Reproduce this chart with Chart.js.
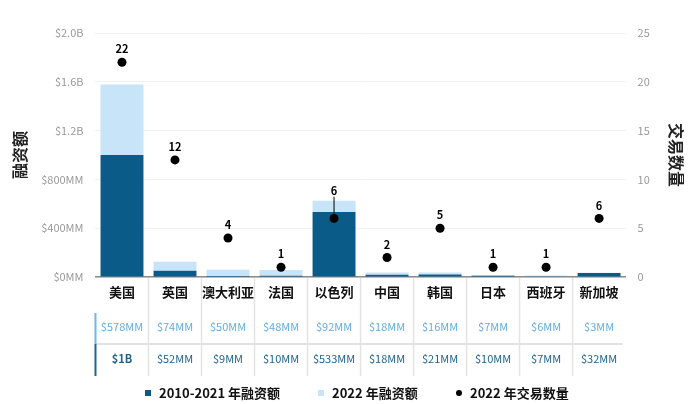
<!DOCTYPE html>
<html lang="zh">
<head>
  <meta charset="UTF-8">
  <title>各国融资额</title>
  <script src="https://cdn.jsdelivr.net/npm/chart.js"></script>
  <style>
    html, body { margin: 0; padding: 0; background: #fff; }
    body { font-family: "Noto Sans CJK SC", "Noto Sans", sans-serif; }
    #wrap { position: relative; width: 700px; height: 404px; }
    #legend {
      position: absolute; left: 0; top: 384px; width: 700px; height: 18px;
      font-size: 13px; font-weight: bold; color: #111; line-height: 18px;
    }
    .item { position: absolute; top: 0; display: flex; align-items: center; white-space: nowrap; }
    .mark { width: 6px; height: 6px; margin-right: 8px; }
    .dot { width: 6px; height: 6px; border-radius: 50%; background: #000; }
  </style>
</head>
<body>
<div id="wrap">
  <canvas id="chart" width="700" height="404"></canvas>
  <div id="legend">
    <div class="item" style="left:145px"><span class="mark" style="background:#0b5b89"></span>2010-2021 年融资额</div>
    <div class="item" style="left:318px"><span class="mark" style="background:#c8e4f8"></span>2022 年融资额</div>
    <div class="item" style="left:456px"><span class="mark dot"></span>2022 年交易数量</div>
  </div>
</div>
<script>
  const categories = ['美国', '英国', '澳大利亚', '法国', '以色列', '中国', '韩国', '日本', '西班牙', '新加坡'];
  // 融资额, 单位 百万美元
  const funding2010_2021 = [1000, 52, 9, 10, 533, 18, 21, 10, 7, 32];
  const funding2022 = [578, 74, 50, 48, 92, 18, 16, 7, 6, 3];
  const deals2022 = [22, 12, 4, 1, 6, 2, 5, 1, 1, 6];

  const DARK = '#0b5b89';
  const LIGHT = '#c8e4f8';
  const FONT = '"Noto Sans CJK SC", "Noto Sans", sans-serif';

  function money(v) {
    if (v >= 1000) return '$' + (v / 1000) + 'B';
    return '$' + v + 'MM';
  }

  const tablePlugin = {
    id: 'table',
    afterDraw(chart) {
      const ctx = chart.ctx;
      const x = chart.scales.x;
      const area = chart.chartArea;
      const bottom = x.bottom;
      const row1 = area.bottom + 50;
      const row2 = area.bottom + 82;
      const mid = area.bottom + 67;
      ctx.save();
      // column separators
      ctx.strokeStyle = '#e4e4e4';
      ctx.lineWidth = 1.5;
      for (let i = 1; i < categories.length; i++) {
        const sx = (x.getPixelForValue(i - 1) + x.getPixelForValue(i)) / 2;
        ctx.beginPath();
        ctx.moveTo(sx, area.bottom + 1);
        ctx.lineTo(sx, bottom);
        ctx.stroke();
      }
      // row separator
      ctx.strokeStyle = '#e2e2e2';
      ctx.lineWidth = 2;
      ctx.beginPath();
      ctx.moveTo(area.left, mid);
      ctx.lineTo(area.right - 3, mid);
      ctx.stroke();
      // left edge lines
      ctx.lineWidth = 2;
      ctx.strokeStyle = '#6fb6e8';
      ctx.beginPath();
      ctx.moveTo(area.left, area.bottom + 36);
      ctx.lineTo(area.left, mid);
      ctx.stroke();
      ctx.strokeStyle = '#1f6390';
      ctx.beginPath();
      ctx.moveTo(area.left, mid);
      ctx.lineTo(area.left, bottom);
      ctx.stroke();
      // values
      ctx.textAlign = 'center';
      ctx.textBaseline = 'middle';
      categories.forEach((c, i) => {
        const cx = x.getPixelForValue(i);
        ctx.font = '11px ' + FONT;
        ctx.fillStyle = '#62aee4';
        ctx.fillText(money(funding2022[i]), cx, row1);
        ctx.fillStyle = '#1f6390';
        ctx.font = (i === 0 ? 'bold ' : '') + '11px ' + FONT;
        ctx.fillText(money(funding2010_2021[i]), cx, row2);
      });
      ctx.restore();
    },
    afterDatasetsDraw(chart) {
      const ctx = chart.ctx;
      const y = chart.scales.y;
      const meta = chart.getDatasetMeta(0);
      ctx.save();
      ctx.font = 'bold 11px ' + FONT;
      ctx.fillStyle = '#000';
      ctx.strokeStyle = '#000';
      ctx.lineWidth = 1;
      ctx.textAlign = 'center';
      ctx.textBaseline = 'middle';
      meta.data.forEach((pt, i) => {
        const barTop = y.getPixelForValue(funding2010_2021[i] + funding2022[i]);
        let ly = pt.y - 13;
        if (barTop < pt.y - 6) {
          ly = barTop - 10;
          ctx.beginPath();
          ctx.moveTo(pt.x, ly + 6);
          ctx.lineTo(pt.x, pt.y);
          ctx.stroke();
        }
        ctx.fillText(String(deals2022[i]), pt.x, ly);
      });
      ctx.restore();
    }
  };

  new Chart(document.getElementById('chart'), {
    data: {
      labels: categories,
      datasets: [
        {
          type: 'line',
          label: '2022 年交易数量',
          data: deals2022,
          yAxisID: 'y1',
          showLine: false,
          pointRadius: 4.5,
          pointHoverRadius: 4.5,
          pointBackgroundColor: '#000',
          pointBorderWidth: 0,
          order: 0
        },
        {
          type: 'bar',
          label: '2010-2021 年融资额',
          data: funding2010_2021,
          backgroundColor: DARK,
          yAxisID: 'y',
          categoryPercentage: 1,
          barPercentage: 0.81,
          order: 1
        },
        {
          type: 'bar',
          label: '2022 年融资额',
          data: funding2022,
          backgroundColor: LIGHT,
          yAxisID: 'y',
          categoryPercentage: 1,
          barPercentage: 0.81,
          order: 1
        }
      ]
    },
    options: {
      responsive: false,
      animation: false,
      layout: { padding: { top: 33, left: 10, right: 1, bottom: 28 } },
      plugins: { legend: { display: false }, tooltip: { enabled: false } },
      scales: {
        x: {
          stacked: true,
          grid: { display: false, drawTicks: false },
          border: { color: '#8c8c8c', width: 1.5 },
          ticks: { color: '#111', font: { family: FONT, size: 13, weight: 'bold' }, padding: 7, autoSkip: false, maxRotation: 0 },
          afterFit(scale) { scale.height = 99; }
        },
        y: {
          stacked: true,
          min: 0,
          max: 2000,
          position: 'left',
          grid: { color: '#f1f1f1', drawTicks: false },
          border: { display: false },
          ticks: {
            stepSize: 400,
            padding: 12,
            color: '#9a9a9a',
            font: { family: FONT, size: 11 },
            callback: v => v >= 1000 ? '$' + (v / 1000).toFixed(1) + 'B' : '$' + v + 'MM'
          },
          title: { display: true, text: '融资额', color: '#222', font: { family: FONT, size: 16, weight: 'bold' }, padding: 0 }
        },
        y1: {
          min: 0,
          max: 25,
          position: 'right',
          grid: { display: false, drawTicks: false },
          border: { display: false },
          ticks: { stepSize: 5, padding: 12, color: '#9a9a9a', font: { family: FONT, size: 11 } },
          title: { display: true, text: '交易数量', color: '#222', font: { family: FONT, size: 16, weight: 'bold' }, padding: { top: 13, bottom: 5 } }
        }
      }
    },
    plugins: [tablePlugin]
  });
</script>
</body>
</html>
